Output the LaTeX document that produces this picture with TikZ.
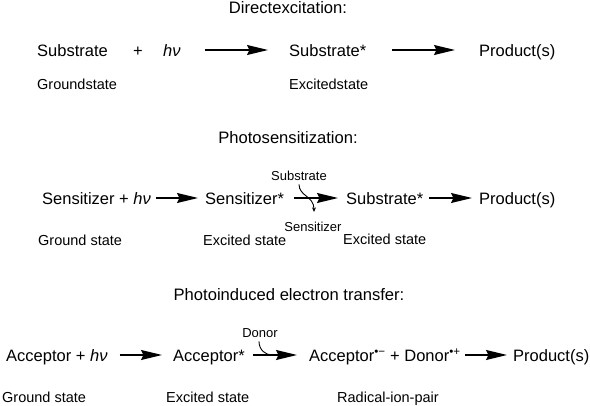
\documentclass[tikz,border=0pt]{standalone}
\usepackage{fontspec}
\setmainfont{Liberation Sans}
\usetikzlibrary{arrows.meta}
\begin{document}
\begin{tikzpicture}[x=1pt,y=-1pt,
  main/.style={inner sep=0pt, text height=13pt, text depth=0pt, anchor=west, font=\fontsize{16.5}{18}\selectfont},
  head/.style={inner sep=0pt, anchor=base, font=\fontsize{16.6}{18}\selectfont},
  state/.style={inner sep=0pt, anchor=base west, font=\fontsize{14.5}{16}\selectfont},
  tiny/.style={inner sep=0pt, anchor=base, font=\fontsize{13}{15}\selectfont},
  rxn/.style={line width=1.3pt, -{Stealth[length=21pt,width=10pt,inset=2.5pt]}},
  curve/.style={line width=0.9pt},
]
\useasboundingbox (0,0) rectangle (590,406);

% Row 1
\node[head] (h1) at (288,14) {Directexcitation:};
\node[main] (s1) at (37,50) {Substrate};
\node[main] (p1) at (133,50) {+};
\node[main] (hv1) at (163,50) {\textit{hν}};
\node[main] (ss1) at (289,50) {Substrate*};
\node[main] (pr1) at (479,50) {Product(s)};
\draw[rxn, shorten <=24pt, shorten >=21pt] (hv1) -- (ss1);
\draw[rxn, shorten <=26pt, shorten >=24pt] (ss1) -- (pr1);
\node[state] (g1) at (37,90) {Groundstate};
\node[state] (e1) at (289,90) {Excitedstate};

% Row 2
\node[head] (h2) at (288,144) {Photosensitization:};
\node[main] (a2) at (42,198) {Sensitizer + \textit{hν}};
\node[main] (b2) at (205,198) {Sensitizer*};
\node[main] (c2) at (346,198) {Substrate*};
\node[main] (d2) at (479,198) {Product(s)};
\draw[rxn, shorten <=5pt, shorten >=7pt] (a2) -- (b2);
\draw[rxn, shorten <=10pt, shorten >=8pt] (b2) -- (c2);
\draw[rxn, shorten <=6pt, shorten >=7pt] (c2) -- (d2);
\node[tiny] (sub2) at (299,180.5) {Substrate};
\node[tiny] (sen2) at (313,231.5) {Sensitizer};
\draw[curve, -{Stealth[length=4.5pt,width=4pt]}] ([yshift=-3.5pt]sub2.south) .. controls +(0,12) and +(0,-16) .. ([xshift=1pt,yshift=10pt]sen2.north);
\node[state] (g2) at (38,246) {Ground state};
\node[state] (e2) at (203,246) {Excited state};
\node[state] (e3) at (343,245) {Excited state};

% Row 3
\node[head] (h3) at (289,301) {Photoinduced electron transfer:};
\node[main] (a3) at (6,355) {Acceptor + \textit{hν}};
\node[main] (b3) at (173,355) {Acceptor*};
\node[main] (c3) at (309,355) {Acceptor\textsuperscript{•−} + Donor\textsuperscript{•+}};
\node[main] (d3) at (513,355) {Product(s)};
\draw[rxn, shorten <=12pt, shorten >=11pt] (a3) -- (b3);
\draw[rxn, shorten <=8.5pt, shorten >=12pt] (b3) -- (c3);
\draw[rxn, shorten <=4pt, shorten >=6pt] (c3) -- (d3);
\node[tiny] (don) at (260,337.5) {Donor};
\draw[curve] ([xshift=-1pt,yshift=-3.5pt]don.south) .. controls +(0,9) and +(-6,0) .. ([xshift=27pt]b3.east);
\node[state] (g3) at (2,403) {Ground state};
\node[state] (e4) at (166,403) {Excited state};
\node[state] (rip) at (337,403) {Radical-ion-pair};
\end{tikzpicture}
\end{document}
